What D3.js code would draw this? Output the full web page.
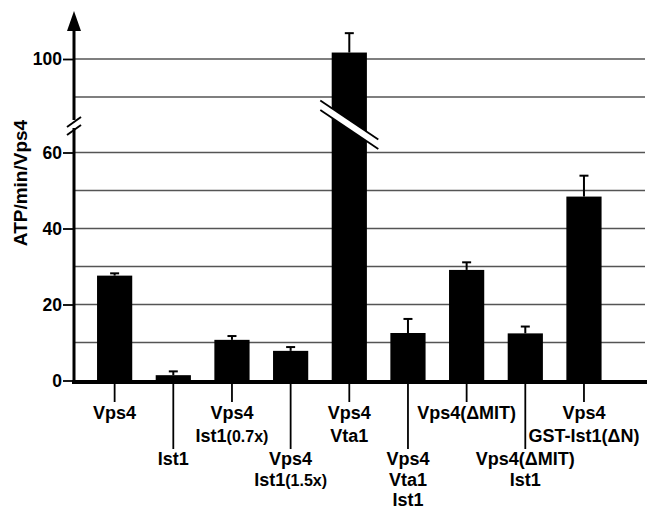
<!DOCTYPE html>
<html>
<head>
<meta charset='utf-8' />
<title>ATP/min/Vps4</title>
<style>
  body { margin: 0; background: #fff; }
  text { font-family: "Liberation Sans", Arial, sans-serif; font-weight: bold; }
</style>
</head>
<body>
<div id="wrapper"></div>
<script src='https://d3js.org/d3.v7.min.js' charset='utf-8'></script>
<script>
const width = 647
const height = 510

// data
const categories = ['Vps4', 'Ist1', 'Vps4 Ist1(0.7x)', 'Vps4 Ist1(1.5x)', 'Vps4 Vta1',
  'Vps4 Vta1 Ist1', 'Vps4(\u0394MIT)', 'Vps4(\u0394MIT) Ist1', 'Vps4 GST-Ist1(\u0394N)']
// label lines; [text, small parenthetical]
const labelLines = [
  [['Vps4']],
  [['Ist1']],
  [['Vps4'], ['Ist1', '(0.7x)']],
  [['Vps4'], ['Ist1', '(1.5x)']],
  [['Vps4'], ['Vta1']],
  [['Vps4'], ['Vta1'], ['Ist1']],
  [['Vps4(\u0394MIT)']],
  [['Vps4(\u0394MIT)'], ['Ist1']],
  [['Vps4'], ['GST-Ist1(\u0394N)']]
]
const values = [27.6, 1.4, 10.7, 7.8, 101.7, 12.5, 29.1, 12.4, 48.4]
const errors = [0.6, 1.0, 1.0, 1.0, 5.1, 3.7, 2.0, 1.8, 5.5]
const tickValues = [0, 20, 40, 60, 100]
const gridValues = [10, 20, 30, 40, 50, 60, 90, 100]

const svg = d3.select('#wrapper').append('svg')
  .attr('width', width)
  .attr('height', height)

// broken axis: 60..90 squeezed
const y = d3.scaleLinear()
  .domain([0, 60, 90, 110])
  .range([380.5, 152.5, 97, 59 - 38])

const x = d3.scaleBand()
  .domain(categories)
  .range([85.3, 613.3])
  .paddingInner(0.4)
  .paddingOuter(0.2)

const axisX = 74

// grid lines
svg.append('g')
  .selectAll('line')
  .data(gridValues)
  .join('line')
  .attr('x1', axisX)
  .attr('x2', 645)
  .attr('y1', d => y(d))
  .attr('y2', d => y(d))
  .attr('stroke', '#555')
  .attr('stroke-width', 1.3)

// bars
svg.append('g')
  .selectAll('rect')
  .data(values)
  .join('rect')
  .attr('x', (d, i) => x(categories[i]))
  .attr('width', x.bandwidth())
  .attr('y', d => y(d))
  .attr('height', d => y(0) - y(d))
  .attr('fill', '#000')

// error bars
const err = svg.append('g').attr('stroke', '#000').attr('stroke-width', 2)
values.forEach((v, i) => {
  const cx = x(categories[i]) + x.bandwidth() / 2
  err.append('line')
    .attr('x1', cx).attr('x2', cx)
    .attr('y1', y(v)).attr('y2', y(v + errors[i]))
  err.append('line')
    .attr('x1', cx - 4.5).attr('x2', cx + 4.5)
    .attr('y1', y(v + errors[i])).attr('y2', y(v + errors[i]))
})

// break mark on the tall bar
const bi = 4
const bcx = x(categories[bi]) + x.bandwidth() / 2
const bcy = y(75)
const dx = 29, slope = 0.67, gap = 4.7
const brk = svg.append('g')
brk.append('polygon')
  .attr('points', [
    [bcx - dx, bcy - gap - dx * slope], [bcx + dx, bcy - gap + dx * slope],
    [bcx + dx, bcy + gap + dx * slope], [bcx - dx, bcy + gap - dx * slope]
  ].map(p => p.join(',')).join(' '))
  .attr('fill', '#fff')
;[-gap, gap].forEach(o => {
  brk.append('line')
    .attr('x1', bcx - dx).attr('y1', bcy + o - dx * slope)
    .attr('x2', bcx + dx).attr('y2', bcy + o + dx * slope)
    .attr('stroke', '#000').attr('stroke-width', 1.8)
})

// y axis ticks and labels
const yAxis = svg.append('g')
  .attr('transform', `translate(${axisX},0)`)
  .call(d3.axisLeft(y).tickValues(tickValues).tickSize(11).tickPadding(1).tickFormat(d3.format('d')))
yAxis.select('.domain').remove()
yAxis.selectAll('.tick line').attr('stroke', '#000').attr('stroke-width', 1.8)
yAxis.selectAll('.tick text')
  .attr('fill', '#000')
  .attr('font-size', 17.5)
  .attr('font-family', '"Liberation Sans", Arial, sans-serif')
  .attr('font-weight', 'bold')

// y axis line with arrow
svg.append('line')
  .attr('x1', axisX).attr('x2', axisX)
  .attr('y1', y(0) + 2).attr('y2', 28)
  .attr('stroke', '#000').attr('stroke-width', 3)
svg.append('polygon')
  .attr('points', `${axisX - 7},31 ${axisX + 7},31 ${axisX},11`)
  .attr('fill', '#000')

// axis break slashes
const sy = 126
svg.append('rect')
  .attr('x', axisX - 3).attr('y', sy - 6).attr('width', 6).attr('height', 8)
  .attr('fill', '#fff')
;[-4, 4].forEach(o => {
  svg.append('line')
    .attr('x1', axisX - 7).attr('y1', sy + o + 5)
    .attr('x2', axisX + 7).attr('y2', sy + o - 5)
    .attr('stroke', '#000').attr('stroke-width', 2)
})

// x axis line
svg.append('line')
  .attr('x1', axisX - 2).attr('x2', 647)
  .attr('y1', y(0) + 1.5).attr('y2', y(0) + 1.5)
  .attr('stroke', '#000').attr('stroke-width', 4)

// category ticks and labels, staggered
const lab = svg.append('g')
categories.forEach((c, i) => {
  const cx = x(c) + x.bandwidth() / 2
  const low = i % 2 === 1
  lab.append('line')
    .attr('x1', cx).attr('x2', cx)
    .attr('y1', y(0) + 3).attr('y2', low ? 449 : 402)
    .attr('stroke', '#000').attr('stroke-width', 1.8)
  const t = lab.append('text')
    .attr('text-anchor', 'middle')
    .attr('font-size', 18)
    .attr('fill', '#000')
  labelLines[i].forEach((ln, k) => {
    t.append('tspan')
      .attr('x', cx)
      .attr('y', (low ? 465 : 419) + k * (low ? 20.5 : 23))
      .text(ln[0])
    if (ln[1]) {
      t.append('tspan').attr('font-size', 16).text(ln[1])
    }
  })
})

// y title
svg.append('text')
  .attr('transform', 'translate(27,183) rotate(-90)')
  .attr('text-anchor', 'middle')
  .attr('font-size', 19)
  .attr('fill', '#000')
  .text('ATP/min/Vps4')
</script>
</body>
</html>
